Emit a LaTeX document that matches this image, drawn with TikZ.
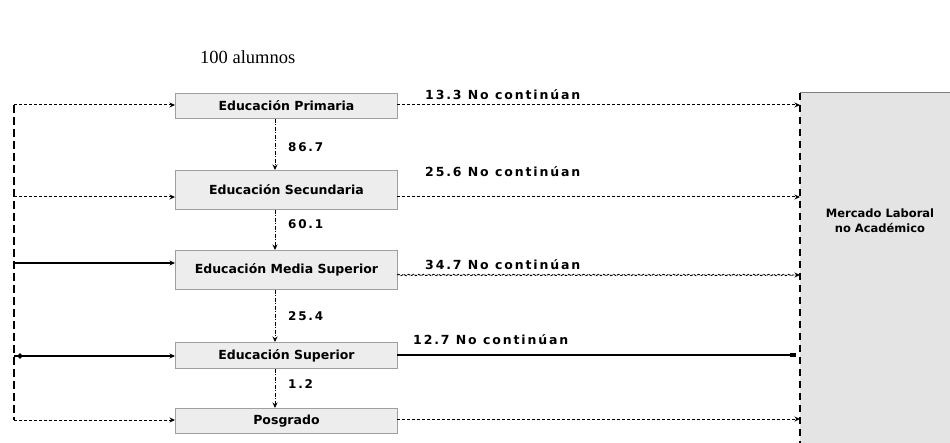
\documentclass[tikz,border=0pt]{standalone}
\usepackage{fontspec}
\setmainfont{Liberation Serif}
\newfontfamily\boxfont{DejaVu Sans}
\newfontfamily\lblfont[LetterSpace=15]{DejaVu Sans}
\usetikzlibrary{arrows.meta,decorations.pathmorphing,shapes.geometric,calc}
\definecolor{boxgray}{HTML}{EDEDED}
\definecolor{mlgray}{HTML}{E4E4E4}
\begin{document}
\begin{tikzpicture}[x=1pt,y=-1pt,
  edbox/.style={draw=gray!75, fill=boxgray, line width=0.9pt, minimum width=222pt, inner sep=0pt,
    anchor=north west, font=\boxfont\bfseries\fontsize{12.5}{14}\selectfont},
  lbl/.style={anchor=west, inner sep=0pt, font=\lblfont\bfseries\fontsize{12.5}{14}\selectfont},
  num/.style={anchor=west, inner sep=0pt, font=\lblfont\bfseries\fontsize{12}{14}\selectfont},
  tip/.style={-{Stealth[length=5.5pt,width=5pt]}},
  dline/.style={line width=1pt, dash pattern=on 3pt off 2pt},
  vline/.style={line width=0.9pt, dash pattern=on 4pt off 1.5pt on 1pt off 1.5pt},
  sline/.style={line width=1.1pt}]
\useasboundingbox (0,0) rectangle (950,443);

% title
\node[anchor=west, inner sep=0pt, font=\fontsize{18.5}{20}\selectfont] (t) at (200,57) {100 alumnos};

% mercado laboral
\node[fill=mlgray, minimum width=150pt, minimum height=350pt, inner sep=0pt, anchor=north west] (m) at (800,93) {};
\draw[gray, line width=1pt] (m.north west) -- (m.north east);
\draw[line width=1.7pt, dash pattern=on 7pt off 5pt] (m.north west) -- (m.south west);
\node[align=center, inner sep=0pt, font=\boxfont\bfseries\fontsize{11.5}{15}\selectfont] (mt) at (880,221) {Mercado Laboral\\no Académico};

% boxes
\node[edbox, minimum height=25pt] (p) at (175,93) {Educación Primaria};
\node[edbox, minimum height=39pt] (s) at (175,170) {Educación Secundaria};
\node[edbox, minimum height=39pt] (ms) at (175,250) {Educación Media Superior};
\node[edbox, minimum height=26pt] (su) at (175,342) {Educación Superior};
\node[edbox, minimum height=25pt] (pg) at (175,408) {Posgrado};

% left bus
\coordinate (L1) at (14,105);
\coordinate (L2) at (14,197);
\coordinate (L3) at (14,263);
\coordinate (L4) at (14,356);
\coordinate (L5) at (14,420);
\draw[line width=1.8pt, dash pattern=on 8pt off 4pt] (L1) -- (L5);
\draw[dline, tip] (L1) -- (L1 -| p.west);
\draw[dline, tip] (L2) -- (L2 -| s.west);
\draw[sline, tip] (L3) -- (L3 -| ms.west);
\draw[sline, tip] (L4) -- (L4 -| su.west);
\node[fill=black, diamond, inner sep=0pt, minimum size=6pt] (dm) at (20,356) {};
\draw[dline, tip] (L5) -- (L5 -| pg.west);

% vertical flow
\coordinate (v) at (275,0);
\draw[vline, tip] (p.south -| v) -- (s.north -| v);
\draw[vline, tip] (s.south -| v) -- (ms.north -| v);
\draw[vline, tip] (ms.south -| v) -- (su.north -| v);
\draw[vline, tip] (su.south -| v) -- (pg.north -| v);
\node[num] (n1) at (288,147) {86.7};
\node[num] (n2) at (288,224) {60.1};
\node[num] (n3) at (288,316) {25.4};
\node[num] (n4) at (288,384) {1.2};

% exits to labour market
\coordinate (R1) at (397,105);
\coordinate (R2) at (397,197);
\coordinate (R3) at (397,275);
\coordinate (R4) at (397,355);
\coordinate (R5) at (397,419);
\draw[dline, tip] (R1) -- (R1 -| m.west);
\draw[dline, tip] (R2) -- (R2 -| m.west);
\draw[line width=0.9pt, dash pattern=on 3pt off 1pt, decorate, decoration={snake, amplitude=0.7pt, segment length=5pt, post length=6pt}, tip] (R3) -- (R3 -| m.west);
\draw[sline, -{Rectangle[length=6pt,width=3.5pt]}] (R4) -- ([xshift=-4pt]R4 -| m.west);
\draw[dline, tip] (R5) -- (R5 -| m.west);
\node[lbl] (l1) at (425,95) {13.3 No continúan};
\node[lbl] (l2) at (425,172) {25.6 No continúan};
\node[lbl] (l3) at (425,265) {34.7 No continúan};
\node[lbl] (l4) at (413,340) {12.7 No continúan};
\end{tikzpicture}
\end{document}
